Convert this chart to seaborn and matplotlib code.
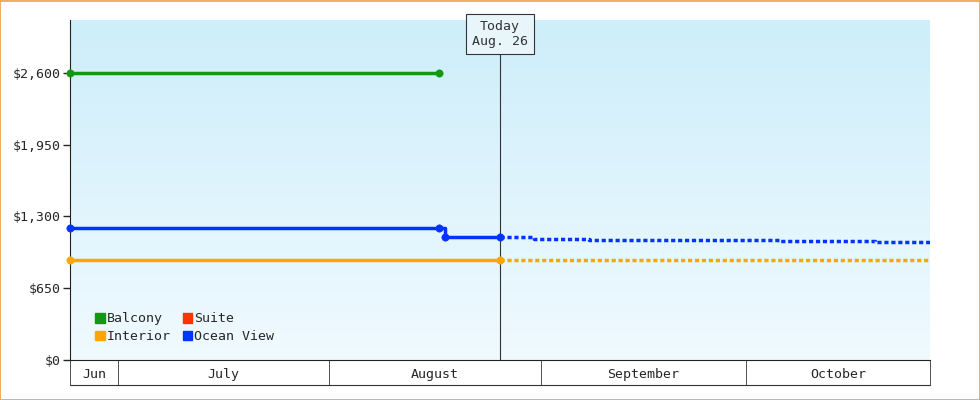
import matplotlib
matplotlib.use("Agg")
import matplotlib.pyplot as plt
import matplotlib.dates as mdates
import seaborn as sns
import numpy as np
import pandas as pd

sns.set_style("white")
plt.rcParams['font.family'] = ['DejaVu Sans Mono', 'DejaVu Sans']

balcony_dates = ["2024-06-24", "2024-08-17"]
balcony_vals = [2600, 2600]
ocean_dates = ["2024-06-24", "2024-08-17", "2024-08-18", "2024-08-26"]
ocean_vals = [1195, 1195, 1110, 1110]
ocean_fc_dates = ["2024-08-26", "2024-08-31", "2024-09-08", "2024-09-17", "2024-10-06", "2024-10-20", "2024-10-28"]
ocean_fc_vals = [1110, 1100, 1090, 1085, 1075, 1065, 1060]
interior_dates = ["2024-06-24", "2024-08-26"]
interior_vals = [905, 905]
interior_fc_dates = ["2024-08-26", "2024-10-28"]
interior_fc_vals = [905, 905]
yticks = [0, 650, 1300, 1950, 2600]
months = ["Jun", "July", "August", "September", "October"]
month_bounds = ["2024-06-24", "2024-07-01", "2024-08-01", "2024-09-01", "2024-10-01", "2024-10-28"]
today = "2024-08-26"

GREEN, BLUE, ORANGE, RED = "#119911", "#0033ff", "#ffa500", "#ff3300"

fig = plt.figure(figsize=(9.8, 4), dpi=100)
fig.patches.append(plt.Rectangle((0.0005, 0.001), 0.999, 0.997, transform=fig.transFigure,
                                 fill=False, edgecolor="#f0a040", lw=1.2))
ax = fig.add_axes([70/980, 40/400, 860/980, 340/400])
xmin, xmax = mdates.datestr2num(month_bounds[0]), mdates.datestr2num(month_bounds[-1])
ymax = 3080
grad = np.linspace(0, 1, 256).reshape(-1, 1)
cmap = matplotlib.colors.LinearSegmentedColormap.from_list("g", ["#f0faff", "#cdeefa"])
ax.imshow(grad, extent=[xmin, xmax, 0, ymax], origin="lower", aspect="auto", cmap=cmap, zorder=0)

def d(lst):
    return pd.to_datetime(lst)

def line(dates, vals, color, ls="-"):
    df = pd.DataFrame({"x": d(dates), "y": vals})
    sns.lineplot(data=df, x="x", y="y", ax=ax, color=color, lw=2.5, linestyle=ls,
                 drawstyle="steps-post", zorder=3)

line(balcony_dates, balcony_vals, GREEN)
line(ocean_dates, ocean_vals, BLUE)
line(ocean_fc_dates, ocean_fc_vals, BLUE, (0, (1.2, 0.8)))
line(interior_dates, interior_vals, ORANGE)
line(interior_fc_dates, interior_fc_vals, ORANGE, (0, (1.2, 0.8)))
for dts, vals, c in [(balcony_dates, balcony_vals, GREEN), (ocean_dates, ocean_vals, BLUE),
                     (interior_dates, interior_vals, ORANGE)]:
    sns.scatterplot(x=d(dts), y=vals, ax=ax, color=c, s=28, edgecolor=c, zorder=4, clip_on=False)

t = mdates.datestr2num(today)
ax.axvline(t, color="#333333", lw=0.8, zorder=2)
ax.text(t, ymax + 2, "Today\nAug. 26", ha="center", va="top", fontsize=9.5, color="#333",
        bbox=dict(boxstyle="square,pad=0.45", fc="#e8f6fc", ec="#333", lw=0.8), zorder=5, clip_on=False)

ax.set_xlim(xmin, xmax)
ax.set_ylim(0, ymax)
ax.set_yticks(yticks)
ax.set_yticklabels([f"${v:,}" for v in yticks])
ax.tick_params(axis="y", length=5, width=1, direction="out", labelsize=9.5, left=True, pad=2)
bnum = [mdates.datestr2num(b) for b in month_bounds]
ax.set_xticks(bnum)
ax.set_xticklabels([])
ax.tick_params(axis="x", which="major", length=18, width=0.6, color="#333", bottom=True)
mids = [(a + b) / 2 for a, b in zip(bnum[:-1], bnum[1:])]
ax.set_xticks(mids, minor=True)
ax.set_xticklabels(months, minor=True)
ax.tick_params(axis="x", which="minor", length=0, labelsize=9.5, pad=6)
ax.set_xlabel(""); ax.set_ylabel("")
for s in ["top", "right"]:
    ax.spines[s].set_visible(False)
ax.spines["left"].set_color("#222"); ax.spines["bottom"].set_color("#222")
ax.plot([0, 1], [-25/340, -25/340], transform=ax.transAxes, color="#333", lw=0.8, clip_on=False)

from matplotlib.patches import Patch
handles = [Patch(color=GREEN, label="Balcony"), Patch(color=ORANGE, label="Interior"),
           Patch(color=RED, label="Suite"), Patch(color=BLUE, label="Ocean View")]
ax.legend(handles=handles, ncol=2, loc="lower left", bbox_to_anchor=(0.015, 0.015), frameon=False,
          handlelength=0.75, handleheight=0.75, handletextpad=0.15, columnspacing=0.9, fontsize=9.5,
          labelspacing=0.35)
fig.savefig("out.png", dpi=100)
